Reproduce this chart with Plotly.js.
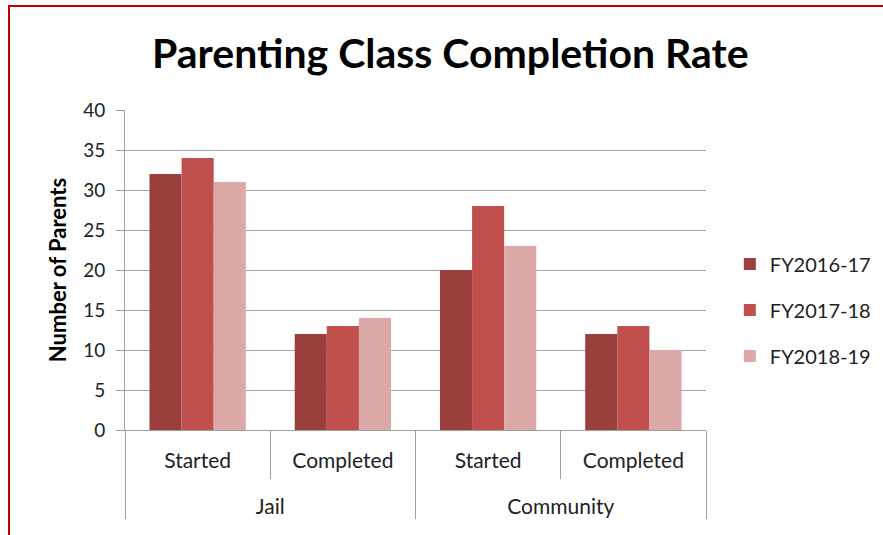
<!DOCTYPE html>
<html>
<head>
<meta charset="utf-8">
<script src="https://cdn.plot.ly/plotly-3.0.1.min.js"></script>
<style>
  html, body { margin: 0; padding: 0; background: #ffffff; }
  #chart { width: 883px; height: 535px; }
  #frame { position: absolute; left: 8px; top: 5px; width: 900px; height: 600px;
           border-left: 2px solid #c00000; border-top: 2px solid #c00000; pointer-events: none; }
</style>
</head>
<body>
<div id="chart"></div>
<div id="frame"></div>
<script>
const groups = ["Jail", "Jail", "Community", "Community"];
const stages = ["Started", "Completed", "Started", "Completed"];
const seriesNames = ["FY2016-17", "FY2017-18", "FY2018-19"];
const fy2016 = [32, 12, 20, 12];
const fy2017 = [34, 13, 28, 13];
const fy2018 = [31, 14, 23, 10];
const colors = ["#9b3f3d", "#c0504d", "#daa9a8"];
const yTicks = [0, 5, 10, 15, 20, 25, 30, 35, 40];

const FONT = "Lato, 'Open Sans', sans-serif";
const values = [fy2016, fy2017, fy2018];
// an empty second text line on the sub-category labels only adds room between the two label rows
const stageLabels = stages.map(s => s + "<br><span style='font-size:38px'> </span>");
const traces = values.map((v, i) => ({
  type: "bar",
  name: seriesNames[i],
  x: [groups, stageLabels],
  y: v,
  marker: { color: colors[i], line: { width: 0 } },
  legendgroup: "g" + i,
  hoverinfo: "y"
}));

const layout = {
  width: 883, height: 535,
  paper_bgcolor: "#ffffff", plot_bgcolor: "#ffffff",
  margin: { l: 125, r: 177, t: 110, b: 105, autoexpand: false },
  barmode: "group", bargap: 0.337, bargroupgap: 0,
  title: {
    text: "<b>Parenting Class Completion Rate</b>",
    font: { family: FONT, size: 41, color: "#000000" },
    x: 0.51, xanchor: "center", y: 0.9, yanchor: "middle"
  },
  font: { family: FONT, color: "#222222" },
  xaxis: {
    type: "multicategory",
    showgrid: false,
    showline: true, linecolor: "#a0a0a0", linewidth: 1,
    ticks: "outside", tickson: "boundaries", ticklen: 48, tickcolor: "#a0a0a0",
    ticklabelstandoff: 12,
    showdividers: true, dividercolor: "#a0a0a0", dividerwidth: 1,
    tickfont: { family: FONT, size: 21, color: "#222222" }
  },
  yaxis: {
    range: [0, 40], tickvals: yTicks, ticktext: yTicks.map(String),
    showgrid: true, gridcolor: "#a6a6a6", gridwidth: 1,
    showline: true, linecolor: "#a0a0a0", linewidth: 1,
    ticks: "outside", ticklen: 8, tickcolor: "#a0a0a0",
    ticklabelstandoff: 7,
    zeroline: false,
    tickfont: { family: FONT, size: 19, color: "#222222" },
    title: { text: "<b>Number of Parents</b>", font: { family: FONT, size: 22, color: "#000000" }, standoff: 10 }
  },
  showlegend: true,
  legend: {
    x: 1.041, xanchor: "left", y: 0.375, yanchor: "middle",
    font: { family: FONT, size: 20, color: "#222222" },
    tracegroupgap: 17, traceorder: "grouped",
    bgcolor: "rgba(0,0,0,0)"
  }
};

Plotly.newPlot("chart", traces, layout, { displayModeBar: false, staticPlot: true });
</script>
</body>
</html>
